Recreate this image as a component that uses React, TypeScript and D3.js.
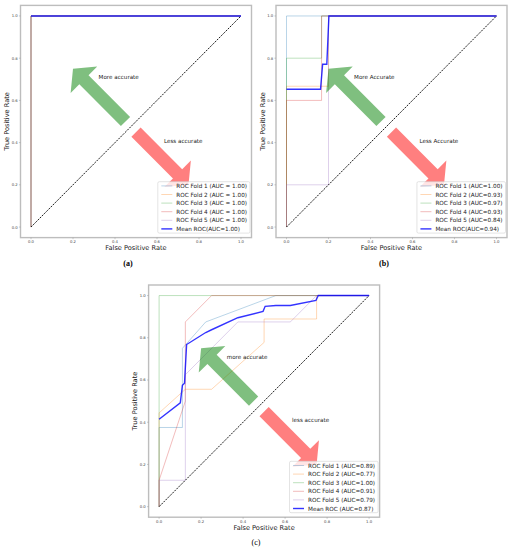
import React from "react";
import * as d3 from "d3";

type Pt = [number, number];

// ---------- data ----------
const tickValues = [0, 0.2, 0.4, 0.6, 0.8, 1.0];
const tickLabels = ["0.0", "0.2", "0.4", "0.6", "0.8", "1.0"];
const foldColors = ["#1f77b4", "#ff7f0e", "#2ca02c", "#d62728", "#9467bd"];
const meanColor = "#0000ff";

// Panel (a)
const rocA1: Pt[] = [[0, 0], [0, 1], [1, 1]];
const rocA2: Pt[] = [[0, 0], [0, 1], [1, 1]];
const rocA3: Pt[] = [[0, 0], [0, 1], [1, 1]];
const rocA4: Pt[] = [[0, 0], [0, 1], [1, 1]];
const rocA5: Pt[] = [[0, 0], [0, 1], [1, 1]];
const meanA: Pt[] = [[0, 1], [1, 1]];
const legendA = [
  "ROC Fold 1 (AUC = 1.00)",
  "ROC Fold 2 (AUC = 1.00)",
  "ROC Fold 3 (AUC = 1.00)",
  "ROC Fold 4 (AUC = 1.00)",
  "ROC Fold 5 (AUC = 1.00)",
  "Mean ROC(AUC=1.00)",
];

// Panel (b)
const rocB1: Pt[] = [[0, 0], [0, 1], [1, 1]];
const rocB2: Pt[] = [[0, 0], [0, 0.667], [0.2, 0.667], [0.2, 1], [1, 1]];
const rocB3: Pt[] = [[0, 0], [0, 0.8], [0.167, 0.8], [0.167, 1], [1, 1]];
const rocB4: Pt[] = [[0, 0], [0, 0.6], [0.167, 0.6], [0.167, 1], [1, 1]];
const rocB5: Pt[] = [[0, 0], [0, 0.2], [0.2, 0.2], [0.2, 1], [1, 1]];
const meanB: Pt[] = [[0, 0.653], [0.162, 0.653], [0.172, 0.771], [0.192, 0.771], [0.202, 1], [1, 1]];
const legendB = [
  "ROC Fold 1 (AUC=1.00)",
  "ROC Fold 2 (AUC=0.93)",
  "ROC Fold 3 (AUC=0.97)",
  "ROC Fold 4 (AUC=0.93)",
  "ROC Fold 5 (AUC=0.84)",
  "Mean ROC(AUC=0.94)",
];

// Panel (c)
const rocC1: Pt[] = [[0, 0], [0, 0.375], [0.111, 0.375], [0.111, 0.75], [0.222, 0.875], [0.556, 1], [1, 1]];
const rocC2: Pt[] = [[0, 0], [0, 0.444], [0.125, 0.556], [0.25, 0.556], [0.5, 0.778], [0.5, 0.889], [0.75, 0.889], [0.75, 1], [1, 1]];
const rocC3: Pt[] = [[0, 0], [0, 1], [1, 1]];
const rocC4: Pt[] = [[0, 0], [0, 0.125], [0.125, 0.5], [0.125, 0.875], [0.25, 1], [1, 1]];
const rocC5: Pt[] = [[0, 0], [0, 0.125], [0.125, 0.125], [0.125, 0.625], [0.375, 0.875], [0.625, 0.875], [0.75, 1], [1, 1]];
const meanC: Pt[] = [
  [0, 0.414], [0.101, 0.492], [0.111, 0.575], [0.121, 0.585], [0.131, 0.768],
  [0.222, 0.825], [0.25, 0.838], [0.375, 0.895], [0.495, 0.925], [0.505, 0.949],
  [0.556, 0.953], [0.625, 0.953], [0.747, 0.977], [0.758, 1], [1, 1],
];
const legendC = [
  "ROC Fold 1 (AUC=0.89)",
  "ROC Fold 2 (AUC=0.77)",
  "ROC Fold 3 (AUC=1.00)",
  "ROC Fold 4 (AUC=0.91)",
  "ROC Fold 5 (AUC=0.79)",
  "Mean ROC (AUC=0.87)",
];

const arrowMore: Pt[] = [[0.45, 0.5], [0.2, 0.75]];
const arrowLess: Pt[] = [[0.5, 0.45], [0.75, 0.2]];
const textMorePos: Pt = [0.322, 0.7];
const textLessPos: Pt = [0.633, 0.4];

// ---------- layout ----------
const FONT = "DejaVu Sans, Verdana, sans-serif";

let measureCtx: CanvasRenderingContext2D | null = null;
function measure(text: string, size: number): number {
  if (!measureCtx) {
    const c = document.createElement("canvas");
    measureCtx = c.getContext("2d");
  }
  if (!measureCtx) return text.length * size * 0.55;
  measureCtx.font = `${size}px "DejaVu Sans"`;
  return measureCtx.measureText(text).width;
}

function arrowPoints(p0: Pt, p1: Pt, shaftW: number, headW: number, headL: number): string {
  const [x0, y0] = p0;
  const [x1, y1] = p1;
  const len = Math.hypot(x1 - x0, y1 - y0);
  const ux = (x1 - x0) / len;
  const uy = (y1 - y0) / len;
  const nx = -uy;
  const ny = ux;
  const bx = x1 - ux * headL;
  const by = y1 - uy * headL;
  const pts: Pt[] = [
    [x0 + nx * shaftW / 2, y0 + ny * shaftW / 2],
    [bx + nx * shaftW / 2, by + ny * shaftW / 2],
    [bx + nx * headW / 2, by + ny * headW / 2],
    [x1, y1],
    [bx - nx * headW / 2, by - ny * headW / 2],
    [bx - nx * shaftW / 2, by - ny * shaftW / 2],
    [x0 - nx * shaftW / 2, y0 - ny * shaftW / 2],
  ];
  return pts.map((p) => p.join(",")).join(" ");
}

type PanelProps = {
  frame: { x: number; y: number; w: number; h: number };
  rocs: Pt[][];
  mean: Pt[];
  labels: string[];
  more: string;
  less: string;
  caption: string;
  capX: number;
  capY: number;
  capBold: boolean;
};

function Panel(p: PanelProps) {
  const f = p.frame;
  const x = d3.scaleLinear().domain([-0.05, 1.05]).range([f.x, f.x + f.w]);
  const y = d3.scaleLinear().domain([-0.05, 1.05]).range([f.y + f.h, f.y]);
  const line = d3.line<Pt>().x((d) => x(d[0])).y((d) => y(d[1]));

  const legFont = 5.7;
  const textW = Math.max(...p.labels.map((l) => measure(l, legFont)));
  const boxW = 3.5 + 11 + 4 + textW + 3;
  const rowH = 8.6;
  const boxH = 4.2 * 2 + 5 * rowH;
  const boxRight = f.x + f.w - 1.5;
  const boxBottom = f.y + f.h - 4.5;
  const bx = boxRight - boxW;
  const by = boxBottom - boxH;

  const tail1: Pt = [x(arrowMore[0][0]), y(arrowMore[0][1])];
  const tip1: Pt = [x(arrowMore[1][0]), y(arrowMore[1][1])];
  const tail2: Pt = [x(arrowLess[0][0]), y(arrowLess[0][1])];
  const tip2: Pt = [x(arrowLess[1][0]), y(arrowLess[1][1])];

  return (
    <g>
      {/* folds */}
      {p.rocs.map((r, i) => (
        <path key={i} d={line(r) || ""} fill="none" stroke={foldColors[i]} strokeOpacity={0.35} strokeWidth={0.9} />
      ))}
      {/* chance diagonal */}
      <path d={line([[0, 0], [1, 1]]) || ""} fill="none" stroke="#000" strokeWidth={0.9} strokeDasharray="2,1.1" />
      {/* mean */}
      <path d={line(p.mean) || ""} fill="none" stroke={meanColor} strokeOpacity={0.8} strokeWidth={1.4} />
      {/* arrows */}
      <polygon points={arrowPoints(tail1, tip1, 13, 37.5, 15.5)} fill="green" fillOpacity={0.5} />
      <polygon points={arrowPoints(tail2, tip2, 13, 37.5, 15.5)} fill="red" fillOpacity={0.5} />
      <text x={x(textMorePos[0])} y={y(textMorePos[1])} fontFamily={FONT} fontSize={5.6} fill="#222">{p.more}</text>
      <text x={x(textLessPos[0])} y={y(textLessPos[1])} fontFamily={FONT} fontSize={5.6} fill="#222">{p.less}</text>
      {/* frame */}
      <rect x={f.x} y={f.y} width={f.w} height={f.h} fill="none" stroke="#bdbdbd" strokeWidth={1.4} />
      {/* ticks */}
      {tickValues.map((t, i) => (
        <g key={"x" + i}>
          <line x1={x(t)} x2={x(t)} y1={f.y + f.h} y2={f.y + f.h + 1.6} stroke="#999" strokeWidth={0.5} />
          <text x={x(t)} y={f.y + f.h + 4} fontFamily={FONT} fontSize={3.8} fill="#444" textAnchor="middle" dominantBaseline="central">{tickLabels[i]}</text>
        </g>
      ))}
      {tickValues.map((t, i) => (
        <g key={"y" + i}>
          <line x1={f.x - 1.6} x2={f.x} y1={y(t)} y2={y(t)} stroke="#999" strokeWidth={0.5} />
          <text x={f.x - 2.8} y={y(t)} fontFamily={FONT} fontSize={3.8} fill="#444" textAnchor="end" dominantBaseline="central">{tickLabels[i]}</text>
        </g>
      ))}
      {/* axis labels */}
      <text x={f.x + f.w / 2} y={f.y + f.h + 10.5} fontFamily={FONT} fontSize={6.6} fill="#222" textAnchor="middle" dominantBaseline="central">False Positive Rate</text>
      <text transform={`translate(${f.x - 13.4},${f.y + f.h / 2}) rotate(-90)`} fontFamily={FONT} fontSize={6.6} fill="#222" textAnchor="middle" dominantBaseline="central">True Positive Rate</text>
      {/* legend */}
      <rect x={bx} y={by} width={boxW} height={boxH} rx={1.5} fill="#fff" fillOpacity={0.8} stroke="#d0d0d0" strokeWidth={0.6} />
      {p.labels.map((l, i) => {
        const cy = by + 4.2 + i * rowH;
        const isMean = i === p.labels.length - 1;
        return (
          <g key={"l" + i}>
            <line x1={bx + 3.5} x2={bx + 14.5} y1={cy} y2={cy}
              stroke={isMean ? meanColor : foldColors[i]}
              strokeOpacity={isMean ? 0.8 : 0.35}
              strokeWidth={isMean ? 1.4 : 0.9} />
            <text x={bx + 18.5} y={cy} fontFamily={FONT} fontSize={legFont} fill="#222" dominantBaseline="central">{l}</text>
          </g>
        );
      })}
      {/* caption */}
      <text x={p.capX} y={p.capY} fontFamily="Liberation Serif, DejaVu Serif, serif" fontSize={8} fontWeight={p.capBold ? "bold" : "normal"} fill="#000" textAnchor="middle" dominantBaseline="central">{p.caption}</text>
    </g>
  );
}

const panels: PanelProps[] = [
  {
    frame: { x: 20.5, y: 5.4, w: 231, h: 232.2 },
    rocs: [rocA1, rocA2, rocA3, rocA4, rocA5], mean: meanA, labels: legendA,
    more: "More accurate", less: "Less accurate", caption: "(a)", capX: 128, capY: 263, capBold: true,
  },
  {
    frame: { x: 276, y: 5.4, w: 231, h: 232.2 },
    rocs: [rocB1, rocB2, rocB3, rocB4, rocB5], mean: meanB, labels: legendB,
    more: "More Accurate", less: "Less Accurate", caption: "(b)", capX: 384, capY: 263, capBold: true,
  },
  {
    frame: { x: 148.6, y: 285, w: 231, h: 232.2 },
    rocs: [rocC1, rocC2, rocC3, rocC4, rocC5], mean: meanC, labels: legendC,
    more: "more accurate", less: "less accurate", caption: "(c)", capX: 256, capY: 542, capBold: false,
  },
];

export default function App() {
  return (
    <svg width={513} height={550} viewBox="0 0 513 550" style={{ position: "absolute", left: 0, top: 0, background: "#fff" }}>
      <rect x={0} y={0} width={513} height={550} fill="#fff" />
      {panels.map((p, i) => (
        <Panel key={i} {...p} />
      ))}
    </svg>
  );
}
